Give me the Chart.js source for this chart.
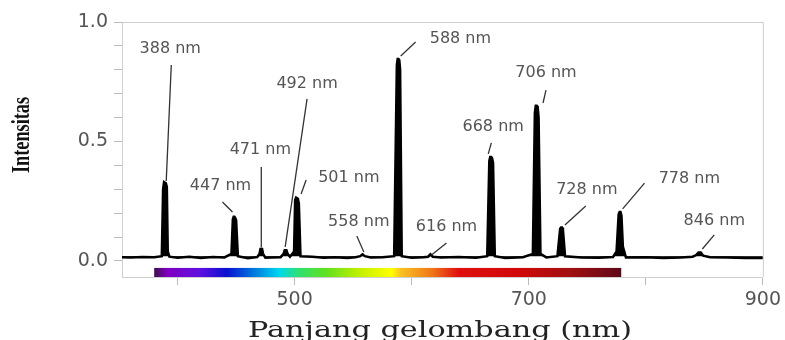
<!DOCTYPE html>
<html>
<head>
<meta charset="utf-8">
<script src="https://cdn.jsdelivr.net/npm/chart.js@4.4.0/dist/chart.umd.min.js"></script>
<style>
  body { margin: 0; background: #fff; }
  canvas { display: block; }
</style>
</head>
<body>
<canvas id="spectrum" width="785" height="340"></canvas>
<script>
// helium emission spectrum
const wavelength = [
    352, 360, 370, 380, 386.5,
    387.6, 388.4, 389.2, 390, 390.8, 391.6, 393,
    400, 410, 420, 430, 440, 446,
    447.2, 447.9, 448.6, 449.3, 450, 451.5,
    460, 468, 470, 470.8, 472.2, 473, 475,
    480, 488, 490.5, 491.5, 493, 494, 496, 499.5,
    500.4, 501.2, 502, 502.8, 503.6, 505,
    515, 525, 535, 545, 552, 556, 558, 560, 565,
    575, 585, 587.3, 588, 588.7, 589.4, 590.1, 591.5,
    600, 610, 614, 616, 618, 625, 640, 655, 664.5,
    666.3, 667.1, 667.9, 668.7, 669.5, 671,
    680, 695, 703.5, 705.2, 706, 706.8, 707.6, 708.4, 710,
    715, 724.5, 726.8, 727.6, 728.4, 729.2, 731,
    745, 760, 772, 775, 776.8, 777.6, 778.4, 779.2, 780.4, 783,
    800, 815, 830, 840, 843, 845, 847, 849, 855, 870, 885, 900
];
const intensity = [
    0.016, 0.015, 0.017, 0.016, 0.02,
    0.30, 0.33, 0.33, 0.325, 0.31, 0.04, 0.018,
    0.014, 0.018, 0.013, 0.017, 0.015, 0.03,
    0.175, 0.185, 0.185, 0.18, 0.17, 0.02,
    0.012, 0.016, 0.03, 0.05, 0.05, 0.03, 0.014,
    0.015, 0.016, 0.03, 0.045, 0.045, 0.03, 0.018, 0.04,
    0.255, 0.265, 0.265, 0.26, 0.24, 0.02,
    0.018, 0.014, 0.016, 0.013, 0.016, 0.02, 0.028, 0.02, 0.015,
    0.016, 0.02, 0.82, 0.845, 0.845, 0.84, 0.8, 0.02,
    0.014, 0.016, 0.018, 0.028, 0.018, 0.015, 0.017, 0.014, 0.02,
    0.42, 0.435, 0.435, 0.43, 0.41, 0.02,
    0.013, 0.016, 0.03, 0.62, 0.65, 0.65, 0.645, 0.6, 0.03,
    0.015, 0.02, 0.135, 0.14, 0.14, 0.13, 0.02,
    0.015, 0.014, 0.017, 0.04, 0.195, 0.205, 0.205, 0.19, 0.06, 0.015,
    0.016, 0.013, 0.015, 0.018, 0.025, 0.035, 0.035, 0.022, 0.016, 0.015, 0.012, 0.013
];

const xTicks = [400, 500, 600, 700, 800, 900];
const xLabels = [500, 700, 900];
const yTicks = [0, 0.1, 0.2, 0.3, 0.4, 0.5, 0.6, 0.7, 0.8, 0.9, 1.0];
const yLabels = [0, 0.5, 1.0];

// peak annotations: text, label centre, leader line from -> to (data units)
const peakNames = ['388 nm', '447 nm', '471 nm', '492 nm', '501 nm', '558 nm', '588 nm',
                   '616 nm', '668 nm', '706 nm', '728 nm', '778 nm', '846 nm'];
const labelAt = [[393.7, 0.887], [436.6, 0.314], [470.7, 0.464], [510.6, 0.74], [546.3, 0.347],
                 [554.8, 0.163], [641.6, 0.929], [629.7, 0.142], [669.6, 0.561], [714.7, 0.787],
                 [749.6, 0.297], [837.2, 0.343], [858.5, 0.167]];
const leaderFrom = [[394.6, 0.82], [438.3, 0.247], [471.5, 0.393], [510.6, 0.678], [509.8, 0.339],
                    [553.1, 0.105], [590.6, 0.858], [629.7, 0.075], [668, 0.494], [714.7, 0.715],
                    [748.7, 0.23], [798.9, 0.326], [858.5, 0.109]];
const leaderTo = [[390.3, 0.335], [446.9, 0.205], [471.5, 0.056], [491.9, 0.059], [505.5, 0.28],
                  [559.1, 0.038], [603.3, 0.916], [616.9, 0.025], [665.4, 0.448], [712.2, 0.661],
                  [730.9, 0.151], [780.2, 0.218], [848.3, 0.05]];

// visible spectrum bar under the trace
const barNm = [380, 391, 419, 442, 467, 487, 504, 527, 555, 583, 591, 617, 640, 693, 736, 779];
const barColors = ['#3c1446', '#8000c0', '#6010e0', '#0a10d0', '#0080e0', '#00d8f0', '#30e070',
                   '#60e020', '#c0f000', '#ffff00', '#f8c020', '#f07818', '#e01010', '#d00808',
                   '#a01010', '#600818'];

const decor = {
    id: 'decor',
    beforeDatasetsDraw(chart) {
        const ctx = chart.ctx;
        const x = chart.scales.x, y = chart.scales.y;
        const x0 = x.getPixelForValue(barNm[0]);
        const x1 = x.getPixelForValue(barNm[barNm.length - 1]);
        const g = ctx.createLinearGradient(x0, 0, x1, 0);
        barNm.forEach((nm, i) => g.addColorStop((nm - barNm[0]) / (barNm[barNm.length - 1] - barNm[0]), barColors[i]));
        const yTop = y.getPixelForValue(-0.029), yBot = y.getPixelForValue(-0.067);
        ctx.save();
        ctx.fillStyle = g;
        ctx.fillRect(x0, yTop, x1 - x0, yBot - yTop);
        ctx.restore();
    },
    afterDraw(chart) {
        const ctx = chart.ctx;
        const a = chart.chartArea;
        const x = chart.scales.x, y = chart.scales.y;
        ctx.save();
        // frame top + right
        ctx.strokeStyle = '#cfcfcf';
        ctx.lineWidth = 1;
        ctx.beginPath();
        ctx.moveTo(a.left, a.top + 0.5);
        ctx.lineTo(a.right + 0.5, a.top + 0.5);
        ctx.lineTo(a.right + 0.5, a.bottom);
        ctx.stroke();

        // leader lines
        ctx.strokeStyle = '#333';
        ctx.lineWidth = 1.3;
        peakNames.forEach((n, i) => {
            ctx.beginPath();
            ctx.moveTo(x.getPixelForValue(leaderFrom[i][0]), y.getPixelForValue(leaderFrom[i][1]));
            ctx.lineTo(x.getPixelForValue(leaderTo[i][0]), y.getPixelForValue(leaderTo[i][1]));
            ctx.stroke();
        });

        // peak labels
        ctx.fillStyle = '#555';
        ctx.font = '16px "DejaVu Sans"';
        ctx.textAlign = 'center';
        ctx.textBaseline = 'middle';
        peakNames.forEach((n, i) => {
            ctx.fillText(n, x.getPixelForValue(labelAt[i][0]), y.getPixelForValue(labelAt[i][1]));
        });

        // x title, stretched wide like the original
        ctx.fillStyle = '#222';
        ctx.font = '22px "DejaVu Serif"';
        ctx.textBaseline = 'alphabetic';
        let w = ctx.measureText('Panjang gelombang (nm)').width;
        ctx.save();
        ctx.translate(440, 337);
        ctx.scale(384 / w, 1);
        ctx.fillText('Panjang gelombang (nm)', 0, 0);
        ctx.restore();

        // y title, squeezed
        ctx.fillStyle = '#111';
        ctx.font = 'bold 25px "Liberation Serif"';
        ctx.textBaseline = 'middle';
        w = ctx.measureText('Intensitas').width;
        ctx.save();
        ctx.translate(23, 135);
        ctx.rotate(-Math.PI / 2);
        ctx.scale(76 / w, 1);
        ctx.fillText('Intensitas', 0, 0);
        ctx.restore();
        ctx.restore();
    }
};

const points = wavelength.map((w, i) => ({ x: w, y: intensity[i] }));

new Chart(document.getElementById('spectrum').getContext('2d'), {
    type: 'line',
    data: {
        datasets: [{
            data: points,
            borderColor: '#000',
            borderWidth: 2.5,
            backgroundColor: '#000',
            pointRadius: 0,
            tension: 0,
            fill: { target: { value: 0.02 } }  // keeps the emission lines solid
        }]
    },
    options: {
        responsive: false,
        animation: false,
        layout: { padding: { top: 22, right: 20, left: 0, bottom: 0 } },
        plugins: { legend: { display: false }, tooltip: { enabled: false } },
        scales: {
            x: {
                type: 'linear',
                min: 352.5,
                max: 900,
                afterBuildTicks: s => { s.ticks = xTicks.map(v => ({ value: v })); },
                afterFit: s => { s.height = 63; },
                ticks: {
                    autoSkip: false,
                    maxRotation: 0,
                    padding: 4,
                    color: '#555',
                    font: { family: 'DejaVu Sans', size: 19 },
                    callback: v => xLabels.includes(v) ? String(v) : ''
                },
                grid: { drawOnChartArea: false, tickLength: 8, color: '#bbb' },
                border: { color: '#cfcfcf' }
            },
            y: {
                min: -0.067,
                max: 1.0,
                afterBuildTicks: s => { s.ticks = yTicks.map(v => ({ value: v })); },
                afterFit: s => { s.width = 122; },
                ticks: {
                    autoSkip: false,
                    padding: 6,
                    color: '#555',
                    font: { family: 'DejaVu Sans', size: 19 },
                    callback: v => yLabels.some(l => Math.abs(l - v) < 1e-6) ? v.toFixed(1) : ''
                },
                grid: { drawOnChartArea: false, tickLength: 8, color: '#bbb' },
                border: { color: '#cfcfcf' }
            }
        }
    },
    plugins: [decor]
});
</script>
</body>
</html>
